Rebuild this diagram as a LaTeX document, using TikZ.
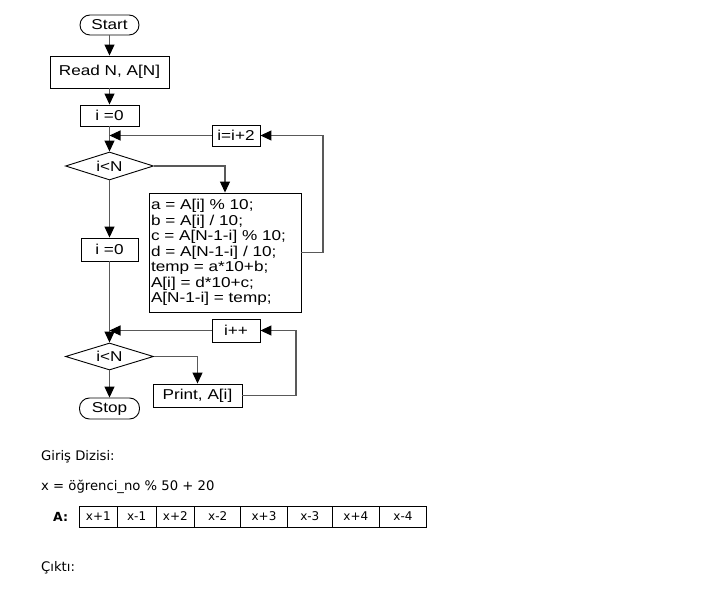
\documentclass[tikz,border=0pt]{standalone}
\usepackage{fontspec}
\usetikzlibrary{arrows.meta,shapes.geometric}
\newfontfamily\flowfont{Liberation Sans}[FakeStretch=1.2]
\newfontfamily\tahfont{DejaVu Sans}
\begin{document}
\begin{tikzpicture}[x=1pt,y=-1pt,
  box/.style={draw=black,line width=0.9pt,fill=white,font=\flowfont\fontsize{14.3}{15.5}\selectfont,inner sep=1pt},
  term/.style={box,rounded corners=10pt},
  dec/.style={draw=black,line width=0.9pt,diamond,aspect=3.2,inner sep=0pt,font=\flowfont\fontsize{14.3}{15.5}\selectfont},
  conn/.style={draw=black!65,line width=1.1pt},
  arr/.style={conn,-{Triangle[length=11pt,width=10pt,fill=black,color=black]}},
  cell/.style={draw=black,line width=0.7pt,minimum height=21pt,inner sep=0pt,outer sep=0pt,anchor=west,font=\tahfont\fontsize{12}{14}\selectfont},
  plain/.style={anchor=west,inner sep=0pt,font=\tahfont\fontsize{13.2}{15}\selectfont}]
\useasboundingbox (0,0) rectangle (709,593);
% flowchart nodes
\node[term,minimum width=59pt,minimum height=20pt] (start) at (109.5,25) {Start};
\node[box,minimum width=119pt,minimum height=32pt] (read) at (109.5,72) {Read N, A[N]};
\node[box,minimum width=59pt,minimum height=21pt] (i0a) at (109.5,115.5) {i =0};
\node[box,minimum width=48pt,minimum height=21pt] (inc2) at (236,135.5) {i=i+2};
\node[dec,minimum width=88pt,minimum height=28pt] (d1) at (109.5,166) {i<N};
\node[box,minimum width=152pt,minimum height=119pt,text width=148pt,align=left,inner sep=2pt] (blk) at (225,252.5)
 {a = A[i] \% 10;\\ b = A[i] / 10;\\ c = A[N-1-i] \% 10;\\ d = A[N-1-i] / 10;\\ temp = a*10+b;\\ A[i] = d*10+c;\\ A[N-1-i] = temp;};
\node[box,minimum width=57pt,minimum height=23pt] (i0b) at (109.5,249.5) {i =0};
\node[box,minimum width=48pt,minimum height=23pt] (inc1) at (236,330.5) {i++};
\node[dec,minimum width=88pt,minimum height=27pt] (d2) at (109.5,356.5) {i<N};
\node[box,minimum width=89pt,minimum height=23pt] (prt) at (197.5,395.5) {Print, A[i]};
\node[term,minimum width=60pt,minimum height=21pt] (stop) at (109.5,408.5) {Stop};
\coordinate (j1) at (109.5,135.5);
\coordinate (j2) at (109.5,330.5);
\coordinate (r1) at (323,252.5);
\coordinate (r2) at (296,395.5);
% connectors
\draw[arr] (start) -- (read);
\draw[arr] (read) -- (i0a);
\draw[arr] (i0a) -- (d1);
\draw[arr] (inc2) -- (j1);
\draw[arr] (d1.east) -| (blk.north);
\draw[arr] (blk.east) -- (r1) |- (inc2.east);
\draw[arr] (d1) -- (i0b);
\draw[arr] (i0b) -- (d2);
\draw[arr] (inc1) -- (j2);
\draw[arr] (d2.east) -| (prt.north);
\draw[arr] (prt.east) -- (r2) |- (inc1.east);
\draw[arr] (d2) -- (stop);
% bottom text
\node[plain] (giris) at (41,457) {Giriş Dizisi:};
\node[plain] (xeq) at (41,487) {x = öğrenci\_no \% 50 + 20};
\node[plain,font=\tahfont\bfseries\fontsize{12.5}{15}\selectfont] (alab) at (53,517) {A:};
\node[cell,minimum width=38pt] (c1) at (79.3,516.5) {x+1};
\node[cell,minimum width=38.7pt] (c2) at (c1.east) {x-1};
\node[cell,minimum width=38.7pt] (c3) at (c2.east) {x+2};
\node[cell,minimum width=46pt] (c4) at (c3.east) {x-2};
\node[cell,minimum width=46.6pt] (c5) at (c4.east) {x+3};
\node[cell,minimum width=45pt] (c6) at (c5.east) {x-3};
\node[cell,minimum width=47pt] (c7) at (c6.east) {x+4};
\node[cell,minimum width=47.4pt] (c8) at (c7.east) {x-4};
\node[plain] (cikti) at (41,568) {Çıktı:};
\end{tikzpicture}
\end{document}
